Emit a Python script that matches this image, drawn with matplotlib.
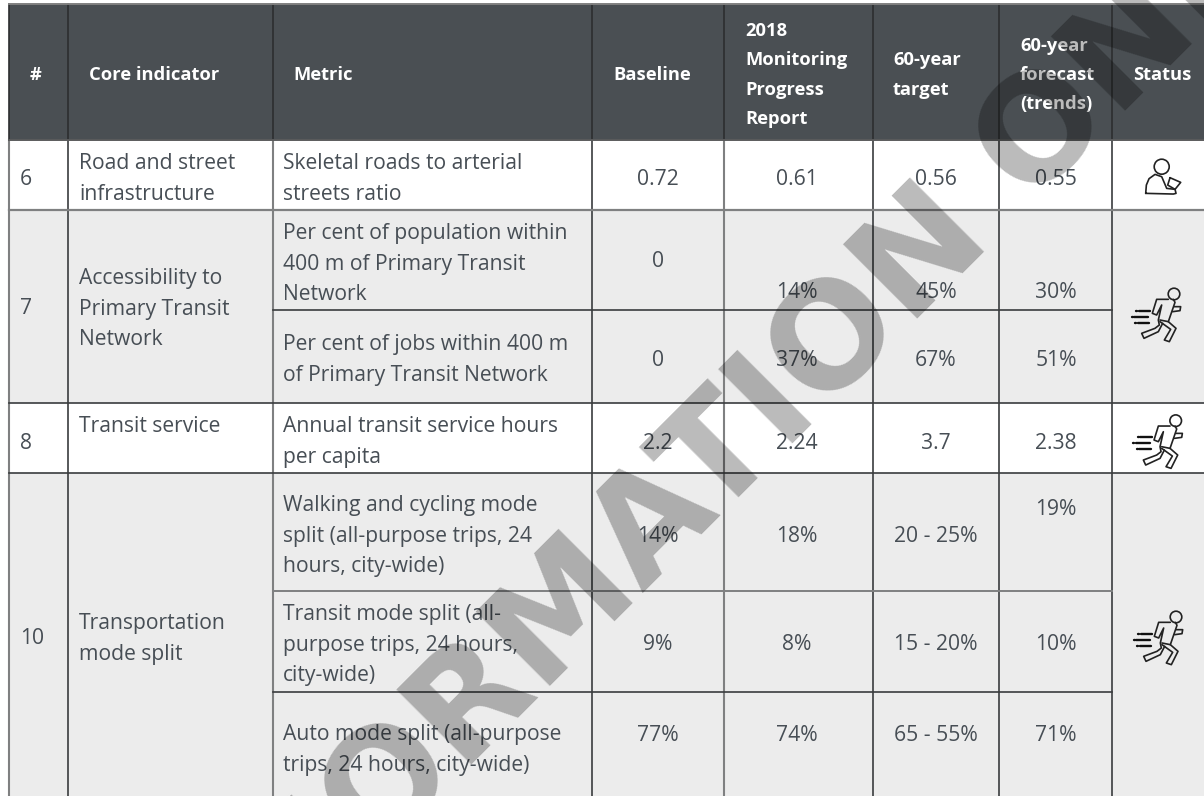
import matplotlib
matplotlib.use('Agg')
import matplotlib.pyplot as plt
from matplotlib.patches import Rectangle, Circle

# table content
header_labels = ['#', 'Core indicator', 'Metric', 'Baseline', '2018\nMonitoring\nProgress\nReport',
                 '60-year\ntarget', '60-year\nforecast\n(trends)', 'Status']
row_numbers = ['6', '7', '8', '10']
core_indicators = ['Road and street\ninfrastructure', 'Accessibility to\nPrimary Transit\nNetwork',
                   'Transit service', 'Transportation\nmode split']
metrics = ['Skeletal roads to arterial\nstreets ratio',
           'Per cent of population within\n400 m of Primary Transit\nNetwork',
           'Per cent of jobs within 400 m\nof Primary Transit Network',
           'Annual transit service hours\nper capita',
           'Walking and cycling mode\nsplit (all-purpose trips, 24\nhours, city-wide)',
           'Transit mode split (all-\npurpose trips, 24 hours,\ncity-wide)',
           'Auto mode split (all-purpose\ntrips, 24 hours, city-wide)']
baseline = ['0.72', '0', '0', '2.2', '14%', '9%', '77%']
progress_2018 = ['0.61', '14%', '37%', '2.24', '18%', '8%', '74%']
target_60 = ['0.56', '45%', '67%', '3.7', '20 - 25%', '15 - 20%', '65 - 55%']
forecast_60 = ['0.55', '30%', '51%', '2.38', '19%', '10%', '71%']
watermark = 'FOR INFORMATION ONLY'

# layout, in reference pixels
col_x = [9, 68, 273, 592, 724, 873, 999, 1112]
value_cols = [658, 797, 936, 1056]
header_x = [35, 89, 293, 613, 745, 893, 1020, 1133]
number_y = [185, 314, 449, 644]
core_y = [169, 284, 432, 629]
metric_y = [169, 239, 350, 432, 511, 620, 740]
base_y = [185, 267, 366, 449, 542, 650, 741]
other_y = [185, 298, 366, 449, 542, 650, 741]
forecast_y = [185, 298, 366, 449, 515, 650, 741]
line_gap = 30.6

TEXT = '#474e55'
BODY = 'Open Sans'
DARK = '#3a3c3e'
MID = '#7f8081'

fig = plt.figure(figsize=(12.04, 7.96), dpi=100)
ax = fig.add_axes([0, 0, 1, 1])
ax.set_xlim(0, 1204)
ax.set_ylim(796, 0)
ax.axis('off')


def band(y0, y1, color):
    ax.add_patch(Rectangle((9, y0), 1195, y1 - y0, fc=color, ec='none', zorder=1))


def body(x, y, s, ha='left'):
    for i, line in enumerate(s.split('\n')):
        ax.text(x, y + i * line_gap, line, ha=ha, va='baseline', color=TEXT, family=BODY,
                fontsize=15.2, zorder=3)


band(4, 140, '#4a4f53')
band(140, 210, '#ffffff')
band(210, 403, '#ececec')
band(403, 473, '#ffffff')
band(473, 796, '#ececec')

# grid lines
for x in col_x:
    c = MID if x in (9, 273, 724) else DARK
    ax.plot([x, x], [140, 796], color=c, lw=1.5 if c == MID else 1.2, zorder=2)
    ax.plot([x, x], [4, 140], color='#2c2e30', lw=1.2, zorder=2)
ax.plot([9, 1204], [4, 4], color='#808080', lw=1.4, zorder=2)
ax.plot([9, 1204], [140, 140], color='#5a5b5c', lw=1.4, zorder=2)
ax.plot([9, 1204], [210, 210], color=MID, lw=1.6, zorder=2)
ax.plot([273, 1112], [310, 310], color=DARK, lw=1.2, zorder=2)
ax.plot([9, 1204], [403, 403], color=DARK, lw=1.2, zorder=2)
ax.plot([9, 1204], [473, 473], color=DARK, lw=1.2, zorder=2)
ax.plot([273, 1112], [591, 591], color=MID, lw=1.4, zorder=2)
ax.plot([273, 1112], [692, 692], color=DARK, lw=1.2, zorder=2)

# header
for lab, x in zip(header_labels, header_x):
    lines = lab.split('\n')
    y0 = 80 - (len(lines) - 1) * 29.3 / 2
    for i, line in enumerate(lines):
        ax.text(x, y0 + i * 29.3, line, ha='center' if lab == '#' else 'left', va='baseline',
                color='white', family='Open Sans', fontweight='bold', fontsize=13.2, zorder=3)

# body
for s, y in zip(row_numbers, number_y):
    body(20, y, s)
for s, y in zip(core_indicators, core_y):
    body(79, y, s)
for s, y in zip(metrics, metric_y):
    body(283, y, s)
for i in range(len(metrics)):
    body(value_cols[0], base_y[i], baseline[i], ha='center')
    body(value_cols[1], other_y[i], progress_2018[i], ha='center')
    body(value_cols[2], other_y[i], target_60[i], ha='center')
    body(value_cols[3], forecast_y[i], forecast_60[i], ha='center')


def stroke(ox, oy, xs, ys, lw=1.2, color='#222222'):
    ax.plot([ox + x / 3 for x in xs], [oy + y / 3 for y in ys], color=color, lw=lw,
            solid_capstyle='round', solid_joinstyle='round', zorder=3)


def runner(ox, oy):
    # outline at 3x, relative to the head centre
    ax.add_patch(Circle((ox, oy), 5.8, fc='none', ec='#222222', lw=1.2, zorder=3))
    stroke(ox, oy, [-17, -52, -65, -52, -37, -47, -44, -57, -97, -90, -47, -34],
           [16, 16, 58, 63, 33, 78, 93, 103, 118, 133, 113, 88])
    stroke(ox, oy, [-2, 3, -17, -42], [16, 25, 83, 78])
    stroke(ox, oy, [-17, 6, -14, -29, -10, -42], [83, 103, 143, 138, 106, 83])
    stroke(ox, oy, [0, 20, 18, -4], [38, 38, 50, 53])
    for x0, x1, y in [(-114, -72, 50), (-127, -77, 68), (-117, -74, 86)]:
        stroke(ox, oy, [x0 + 8, x1], [y, y], lw=1.7, color='#111111')
        stroke(ox, oy, [x0, x0 + 3], [y, y], lw=1.7, color='#111111')


def reader(ox, oy):
    ax.add_patch(Circle((ox, oy), 7.5, fc='none', ec='#222222', lw=1.2, zorder=3))
    stroke(ox, oy, [-48, -46, -38, -20, 0, 15, 40, 43, 35, -48],
           [80, 55, 36, 23, 30, 65, 68, 80, 82, 80])
    stroke(ox, oy, [25, 57, 40, 18, 25], [33, 47, 68, 55, 33])


reader(1161.7, 166.7)
runner(1174, 294)
runner(1175.7, 420.7)
runner(1176, 617)

# watermark over everything
ax.text(590, 590, watermark, rotation=45, rotation_mode='anchor', ha='center', va='center',
        family='DejaVu Sans', fontweight='bold', fontsize=104, color='black', alpha=0.27, zorder=5)

fig.savefig('out.png', dpi=100)
